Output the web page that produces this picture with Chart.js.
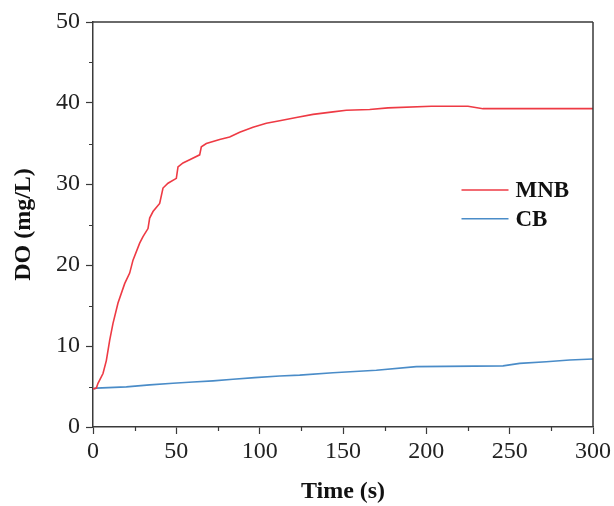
<!DOCTYPE html>
<html>
<head>
<meta charset="utf-8">
<script src="https://cdn.jsdelivr.net/npm/chart.js@4.4.1/dist/chart.umd.min.js"></script>
<style>
  html, body { margin: 0; padding: 0; background: #fff; }
  #wrap { width: 614px; height: 506px; position: relative; }
</style>
</head>
<body>
<div id="wrap"><canvas id="c" width="614" height="506"></canvas></div>
<script>
// ---- data ----
const seriesNames = ["MNB", "CB"];
const mnbTime = [0, 2, 3, 6, 8, 10, 12, 15, 19, 22, 24, 28, 30, 33, 34, 36, 40, 42, 45, 50, 51, 54, 58, 64, 65, 68, 76, 82, 88, 96, 104, 112, 122, 132, 144, 152, 166, 177, 203, 225, 234, 300];
const mnbDO   = [4.7, 4.8, 5.4, 6.6, 8.2, 10.7, 12.8, 15.3, 17.7, 19.0, 20.6, 22.7, 23.5, 24.5, 25.8, 26.6, 27.6, 29.5, 30.1, 30.7, 32.1, 32.6, 33.0, 33.6, 34.6, 35.0, 35.5, 35.8, 36.4, 37.0, 37.5, 37.8, 38.2, 38.6, 38.9, 39.1, 39.2, 39.4, 39.6, 39.6, 39.3, 39.3];
const cbTime  = [0, 2, 20, 34, 48, 60, 72, 84, 97, 112, 124, 144, 170, 194, 246, 256, 272, 286, 300];
const cbDO    = [4.7, 4.8, 4.95, 5.2, 5.4, 5.55, 5.7, 5.9, 6.1, 6.3, 6.4, 6.7, 7.0, 7.45, 7.55, 7.85, 8.05, 8.27, 8.4];
const xTicks  = [0, 50, 100, 150, 200, 250, 300];
const yTicks  = [0, 10, 20, 30, 40, 50];
const xMinorStep = 25;
const yMinorStep = 5;
const xTitle = "Time (s)";
const yTitle = "DO (mg/L)";

const axisColor = "#3a3a3a";
const serif = "'Liberation Serif', 'Times New Roman', serif";

const toXY = (xs, ys) => xs.map((x, i) => ({ x: x, y: ys[i] }));

// minor ticks + top/right frame + in-plot legend
const framePlugin = {
  id: "frame",
  afterDraw(chart) {
    const ctx = chart.ctx;
    const a = chart.chartArea;
    const xs = chart.scales.x, ys = chart.scales.y;
    ctx.save();
    ctx.strokeStyle = axisColor;
    ctx.lineWidth = 1.5;
    ctx.beginPath();
    ctx.moveTo(a.left, a.top); ctx.lineTo(a.right, a.top);
    ctx.moveTo(a.right, a.top); ctx.lineTo(a.right, a.bottom);
    ctx.stroke();
    // minor ticks
    ctx.lineWidth = 1.2;
    ctx.beginPath();
    for (let v = xs.min + xMinorStep; v < xs.max; v += xMinorStep) {
      if (xTicks.includes(v)) continue;
      const px = Math.round(xs.getPixelForValue(v)) + 0.5;
      ctx.moveTo(px, a.bottom); ctx.lineTo(px, a.bottom + 4);
    }
    for (let v = ys.min + yMinorStep; v < ys.max; v += yMinorStep) {
      if (yTicks.includes(v)) continue;
      const py = Math.round(ys.getPixelForValue(v)) + 0.5;
      ctx.moveTo(a.left, py); ctx.lineTo(a.left - 4, py);
    }
    ctx.stroke();
    // legend
    const lx0 = a.left + (a.right - a.left) * 0.737;
    const lx1 = lx0 + 47;
    const ly = [a.top + (a.bottom - a.top) * 0.415, a.top + (a.bottom - a.top) * 0.486];
    chart.data.datasets.forEach((ds, i) => {
      ctx.strokeStyle = ds.borderColor;
      ctx.lineWidth = 1.5;
      ctx.beginPath();
      ctx.moveTo(lx0, ly[i]); ctx.lineTo(lx1, ly[i]);
      ctx.stroke();
      ctx.fillStyle = "#111";
      ctx.font = "bold 23px " + serif;
      ctx.textBaseline = "middle";
      ctx.textAlign = "left";
      ctx.fillText(ds.label, lx1 + 7, ly[i] + 1);
    });
    ctx.restore();
  }
};

new Chart(document.getElementById("c"), {
  type: "line",
  data: {
    datasets: [
      { label: seriesNames[0], data: toXY(mnbTime, mnbDO), borderColor: "#ee3a44", borderWidth: 1.6, pointRadius: 0, tension: 0, fill: false },
      { label: seriesNames[1], data: toXY(cbTime, cbDO), borderColor: "#4a8cc8", borderWidth: 1.6, pointRadius: 0, tension: 0, fill: false }
    ]
  },
  options: {
    responsive: false,
    animation: false,
    devicePixelRatio: 1,
    layout: { padding: { left: 9, right: 19, top: 22, bottom: 0 } },
    plugins: { legend: { display: false }, tooltip: { enabled: false } },
    scales: {
      x: {
        type: "linear",
        min: 0, max: 300,
        afterBuildTicks: (s) => { s.ticks = xTicks.map(v => ({ value: v })); },
        afterFit: (s) => { s.height = 79; },
        border: { display: true, color: axisColor, width: 1.5 },
        grid: { drawOnChartArea: false, drawTicks: true, tickLength: 7, tickColor: axisColor, tickWidth: 1.2 },
        ticks: { color: "#222", font: { family: serif, size: 24 }, padding: 3, maxRotation: 0 },
        title: { display: true, text: xTitle, color: "#111", font: { family: serif, size: 24, weight: "bold" }, padding: { top: 14, bottom: 0 } }
      },
      y: {
        type: "linear",
        min: 0, max: 50,
        afterBuildTicks: (s) => { s.ticks = yTicks.map(v => ({ value: v })); },
        afterFit: (s) => { s.width = 84; },
        border: { display: true, color: axisColor, width: 1.5 },
        grid: { drawOnChartArea: false, drawTicks: true, tickLength: 7, tickColor: axisColor, tickWidth: 1.2 },
        ticks: { color: "#222", font: { family: serif, size: 24 }, padding: 6 },
        title: { display: true, text: yTitle, color: "#111", font: { family: serif, size: 24, weight: "bold" }, padding: { top: 0, bottom: 14 } }
      }
    }
  },
  plugins: [framePlugin]
});
</script>
</body>
</html>
